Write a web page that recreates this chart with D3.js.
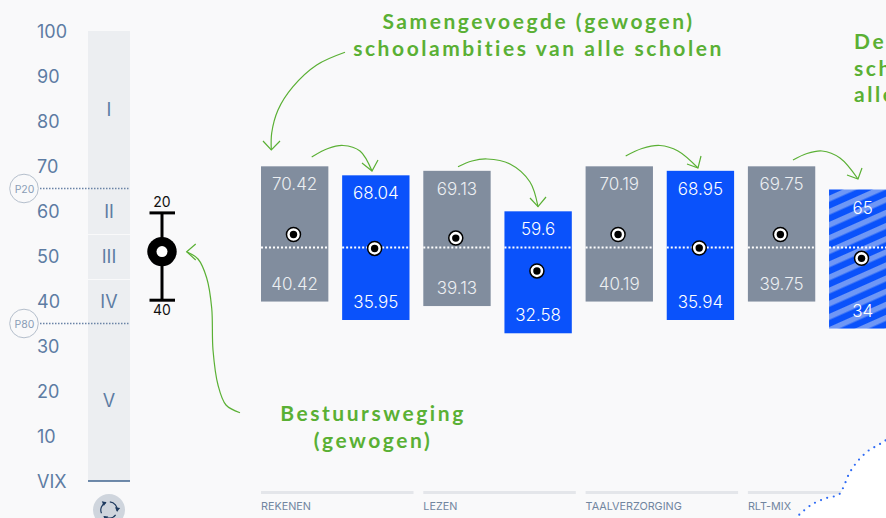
<!DOCTYPE html>
<html><head><meta charset="utf-8">
<script src="https://cdnjs.cloudflare.com/ajax/libs/d3/7.8.5/d3.min.js"></script>
<style>html,body{margin:0;padding:0;background:#f9f9fa;overflow:hidden}svg{display:block}
text{font-family:Inter,"Noto Sans",sans-serif}</style></head><body><div id="c"></div>
<script>
const axisTicks=[100,90,80,70,60,50,40,30,20,10,0];
const axisLabels=["100","90","80","70","60","50","40","30","20","10","VIX"];
const levelNames=["I","II","III","IV","V"];
const levelCentres=[82.5,60,50,40,18];
const levelBreaks=[55,45];
const groups=["REKENEN","LEZEN","TAALVERZORGING","RLT-MIX"];
const topLabels=["70.42","68.04","69.13","59.6","70.19","68.95","69.75","65"];
const bottomLabels=["40.42","35.95","39.13","32.58","40.19","35.94","39.75","34"];
const barTops=[70.15,68.15,69.15,60.15,70.15,69.15,70.15,65];
const barBottoms=[40.1,36,39.1,33.05,40.1,36,40.1,34.1];
const dots=[55,51.9,54.2,46.9,55,52,55,49.7];
const barType=["gray","blue","gray","blue","gray","blue","gray","hatch"];
const refLine=52.1;
const percentiles=[{n:"P20",v:65},{n:"P80",v:35}];
const whisker={hi:59.8,mid:51.2,lo:40.4,top:"20",bottom:"40"};
const notes=[
 {lines:["Samengevoegde (gewogen)","schoolambities van alle scholen"],x:538.5,y:29,anchor:"middle"},
 {lines:["De","sch","alle"],x:854,y:49,anchor:"start"},
 {lines:["Bestuursweging","(gewogen)"],x:373,y:421,anchor:"middle"}];
const arrows=[
 {pts:[[345,52.3],[316.7,65],[293,86.7],[278,110],[271.7,133],[271.3,150]],wings:[[263,141],[280,141]]},
 {pts:[[311.7,157],[328,148.5],[343,145.5],[360,151],[372,171]],wings:[[362,163],[378,160]]},
 {pts:[[458,166.7],[472,161],[487,159],[510,164],[530,182],[538,206.7]],wings:[[530,198],[546,197]]},
 {pts:[[625.7,156],[642,148.5],[660,145.5],[678,151],[698,168]],wings:[[687,164],[701,156]]},
 {pts:[[793,160],[807,153.5],[822,151],[840,158],[858,179]],wings:[[847,175],[862,168]]},
 {pts:[[240,412.7],[226,405],[218,385],[213,350],[211.7,308],[206.7,278],[198,259],[186.7,251.7]],wings:[[195.7,244],[195.7,260]]}];

const W=886,H=518;
const svg=d3.select("#c").append("svg").attr("width",W).attr("height",H);
const y=d3.scaleLinear().domain([0,100]).range([482,32]);
const yAxisPos=d3.scaleLinear().domain([0,100]).range([481,31]);
const x=d3.scaleBand().domain(d3.range(topLabels.length)).range([261,896.4]).paddingInner(0.17);
const defs=svg.append("defs");
const pat=defs.append("pattern").attr("id","hatch").attr("patternUnits","userSpaceOnUse")
 .attr("width",12).attr("height",12).attr("patternTransform","rotate(-24)");
pat.append("rect").attr("width",12).attr("height",12).attr("fill","#0a52fb");
pat.append("rect").attr("width",12).attr("height",5.5).attr("fill","#6f97f5");

const AX="#5d7ca3";
svg.append("g").selectAll("text").data(axisTicks).join("text")
 .attr("x",37).attr("y",d=>yAxisPos(d)+6.5).attr("font-size",18).attr("font-weight",400).attr("fill",AX)
 .text((d,i)=>axisLabels[i]);
svg.append("rect").attr("x",88).attr("width",42).attr("y",yAxisPos(100)).attr("height",yAxisPos(0)-yAxisPos(100)).attr("fill","#eceef1");
svg.append("g").selectAll("line").data(levelBreaks).join("line")
 .attr("x1",88).attr("x2",130).attr("y1",d=>y(d)).attr("y2",d=>y(d)).attr("stroke","#f9f9fa").attr("stroke-width",1);
svg.append("line").attr("x1",88).attr("x2",130).attr("y1",yAxisPos(0)).attr("y2",yAxisPos(0)).attr("stroke","#41648f").attr("stroke-width",1.6);
svg.append("g").selectAll("text").data(levelNames).join("text")
 .attr("x",109).attr("y",(d,i)=>yAxisPos(levelCentres[i])+6.5).attr("text-anchor","middle").attr("font-size",18).attr("font-weight",400).attr("fill",AX).text(d=>d);
const pg=svg.append("g").selectAll("g").data(percentiles).join("g");
pg.append("line").attr("x1",40).attr("x2",130).attr("y1",d=>yAxisPos(d.v)).attr("y2",d=>yAxisPos(d.v))
 .attr("stroke","#6a83a6").attr("stroke-width",1.5).attr("stroke-dasharray","1.5 1.5");
pg.append("circle").attr("cx",24).attr("cy",d=>yAxisPos(d.v)).attr("r",14.3).attr("fill","#f9f9fa").attr("stroke","#b5bfcc");
pg.append("text").attr("x",24.5).attr("y",d=>yAxisPos(d.v)+4).attr("text-anchor","middle").attr("font-size",10.5).attr("fill","#8a9db6").text(d=>d.n);

const wg=svg.append("g");
wg.append("line").attr("x1",162).attr("x2",162).attr("y1",y(whisker.hi)).attr("y2",y(whisker.lo)).attr("stroke","#000").attr("stroke-width",3);
[whisker.hi,whisker.lo].forEach(v=>wg.append("line").attr("x1",149.5).attr("x2",175).attr("y1",y(v)).attr("y2",y(v)).attr("stroke","#000").attr("stroke-width",3));
wg.append("circle").attr("cx",162).attr("cy",y(whisker.mid)).attr("r",14.7).attr("fill","#000");
wg.append("circle").attr("cx",162).attr("cy",y(whisker.mid)).attr("r",5.5).attr("fill","#fff");
wg.append("text").attr("x",162).attr("y",207).attr("text-anchor","middle").attr("font-size",14).attr("fill","#111").text(whisker.top);
wg.append("text").attr("x",162).attr("y",315).attr("text-anchor","middle").attr("font-size",14).attr("fill","#111").text(whisker.bottom);

const fill=t=>t==="gray"?"#818d9e":t==="blue"?"#0a52fb":"url(#hatch)";
svg.append("g").selectAll("rect").data(topLabels).join("rect")
 .attr("x",(d,i)=>x(i)).attr("width",x.bandwidth())
 .attr("y",(d,i)=>y(barTops[i])).attr("height",(d,i)=>y(barBottoms[i])-y(barTops[i]))
 .attr("fill",(d,i)=>fill(barType[i]));
svg.append("g").selectAll("line").data(topLabels).join("line")
 .attr("x1",(d,i)=>x(i)).attr("x2",(d,i)=>x(i)+x.bandwidth())
 .attr("y1",y(refLine)).attr("y2",y(refLine))
 .attr("stroke","#fff").attr("stroke-width",2).attr("stroke-dasharray","2 2");
const lbl=(arr,vals,off)=>svg.append("g").selectAll("text").data(arr).join("text")
 .attr("x",(d,i)=>x(i)+x.bandwidth()/2).attr("y",(d,i)=>y(vals[i])+off)
 .attr("text-anchor","middle").attr("font-size",17).attr("font-weight",300).attr("fill",(d,i)=>barType[i]==="gray"?"#eceff2":"#fff").text(d=>d);
lbl(topLabels,barTops,24);
lbl(bottomLabels,barBottoms,-12);
const dg=svg.append("g").selectAll("g").data(dots).join("g");
dg.append("circle").attr("cx",(d,i)=>x(i)+x.bandwidth()/2-1.2).attr("cy",d=>y(d)).attr("r",7).attr("fill","#fff").attr("stroke","#000").attr("stroke-width",1.5);
dg.append("circle").attr("cx",(d,i)=>x(i)+x.bandwidth()/2-1.2).attr("cy",d=>y(d)).attr("r",3.7).attr("fill","#000");

const gx=i=>x(i*2);
svg.append("g").selectAll("rect").data(groups).join("rect")
 .attr("x",(d,i)=>gx(i)).attr("y",491).attr("height",3).attr("width",152.5).attr("fill","#e4e6ea");
svg.append("g").selectAll("text").data(groups).join("text")
 .attr("x",(d,i)=>gx(i)).attr("y",510).attr("font-size",10.8).attr("fill","#71859f").text(d=>d);

const cornerPts=[[799.3,514.7],[811,505],[825,498.5],[839,494.5],[843.5,487],[849,474],[857,462],[868,451],[880,444],[892,436]];
const cornerLine=d3.line().curve(d3.curveCatmullRom);
svg.append("path").attr("d",cornerLine(cornerPts)+"L892,520L795,520Z").attr("fill","#fff");
svg.append("path").attr("d",cornerLine(cornerPts)).attr("fill","none").attr("stroke","#2f6bf5").attr("stroke-width",2.2).attr("stroke-linecap","round").attr("stroke-dasharray","0 6.6");

svg.append("circle").attr("cx",109).attr("cy",510).attr("r",16).attr("fill","#cfd5dd");
const arc=d3.arc().innerRadius(7.6).outerRadius(8.8);
[0.1,2.2,4.3].forEach(a0=>{const g=svg.append("g").attr("transform","translate(109,510)");
 g.append("path").attr("d",arc({startAngle:a0,endAngle:a0+1.6})).attr("fill","#1e3a5f");
 g.append("path").attr("d","M-3.4,-2.6L0.6,0L-3.4,2.6Z").attr("fill","#1e3a5f")
  .attr("transform",`rotate(${(a0+1.6)*180/Math.PI}) translate(0,${-8.2})`);});

const G="#5ab034";
notes.forEach(n=>{const t=svg.append("text").attr("text-anchor",n.anchor).attr("fill",G)
  .style("font-family","Lato,sans-serif").attr("font-size",21).attr("font-weight",700).attr("letter-spacing",2.55);
 n.lines.forEach((l,i)=>t.append("tspan").attr("x",n.x).attr("y",n.y+i*26.7).text(l));});
const cl=d3.line().curve(d3.curveCatmullRom);
arrows.forEach(a=>{
 const tip=a.pts[a.pts.length-1];
 svg.append("path").attr("d",cl(a.pts)).attr("fill","none").attr("stroke",G).attr("stroke-width",1.2);
 svg.append("path").attr("d",d3.line()([a.wings[0],tip,a.wings[1]])).attr("fill","none").attr("stroke",G).attr("stroke-width",1.2);
});
</script></body></html>
